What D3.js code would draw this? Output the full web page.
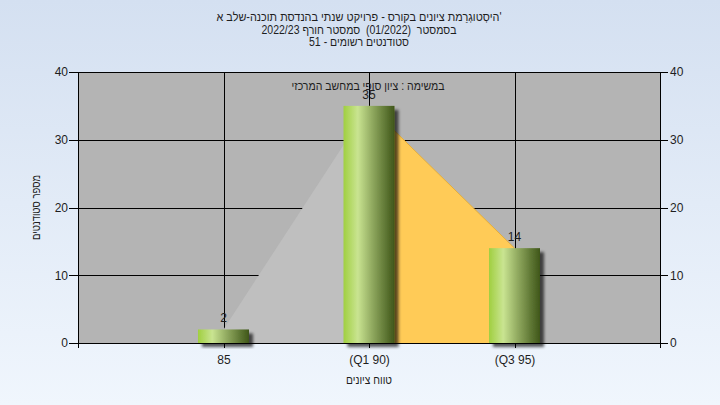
<!DOCTYPE html>
<html>
<head>
<meta charset="utf-8">
<script src="https://cdn.jsdelivr.net/npm/d3@7"></script>
<style>
  html, body { margin: 0; padding: 0; }
  body { width: 720px; height: 405px; overflow: hidden; }
  text { font-family: "Liberation Sans", Arial, sans-serif; fill: #1e1e1e; white-space: pre; }
</style>
</head>
<body>
<svg id="chart" width="720" height="405"></svg>
<script>
// ---- data ----
const categories = ["85", "(Q1 90)", "(Q3 95)"];
const counts = [2, 35, 14];
const yTicks = [0, 10, 20, 30, 40];
const titleLines = [
  "היסְטוגְרַמת ציונים בקורס - פרויקט שנתי בהנדסת תוכנה-שלב א'",
  "בסמסטר  (01/2022)  סמסטר חורף 2022/23",
  "סטודנטים רשומים - 51"
];
const seriesLabel = "במשימה : ציון סופי במחשב המרכזי";
const xTitle = "טווח ציונים";
const yTitle = "מספר סטודנטים";
const areaColors = ["#bfbfbf", "#ffcb57"];

// ---- layout ----
const W = 720, H = 405;
const plot = { left: 78, right: 660, top: 72, bottom: 343 };
const titleWidths = [285, 195, 100];
const svg = d3.select("#chart");

const defs = svg.append("defs");
const bg = defs.append("linearGradient").attr("id", "bg").attr("x1", 0).attr("y1", 0).attr("x2", 0).attr("y2", 1);
bg.append("stop").attr("offset", "0%").attr("stop-color", "#d4e0f1");
bg.append("stop").attr("offset", "100%").attr("stop-color", "#f0f6fd");

const bar = defs.append("linearGradient").attr("id", "barg").attr("x1", 0).attr("y1", 0).attr("x2", 1).attr("y2", 0);
[["0%", "#a0cf40"], ["28%", "#c9e491"], ["55%", "#93ac62"], ["85%", "#5a7230"], ["100%", "#3f561a"]]
  .forEach(([o, c]) => bar.append("stop").attr("offset", o).attr("stop-color", c));

const f = defs.append("filter").attr("id", "shadow").attr("x", "-20%").attr("y", "-20%").attr("width", "160%").attr("height", "160%");
f.append("feDropShadow").attr("dx", 4).attr("dy", 4).attr("stdDeviation", 1.6)
  .attr("flood-color", "#000").attr("flood-opacity", 0.65);

svg.append("rect").attr("width", W).attr("height", H).attr("fill", "url(#bg)");

// scales
const x = d3.scalePoint().domain(categories).range([plot.left, plot.right]).padding(1);
const y = d3.scaleLinear().domain([0, 40]).range([plot.bottom, plot.top]);

// plot background
svg.append("rect").attr("x", plot.left).attr("y", plot.top)
  .attr("width", plot.right - plot.left).attr("height", plot.bottom - plot.top)
  .attr("fill", "#b4b4b4");

// gridlines
const grid = svg.append("g").attr("stroke", "#000").attr("stroke-width", 1).attr("shape-rendering", "crispEdges");
grid.selectAll("line.h").data(yTicks.filter(t => t > 0)).join("line")
  .attr("x1", plot.left).attr("x2", plot.right)
  .attr("y1", d => Math.round(y(d)) + 0.5).attr("y2", d => Math.round(y(d)) + 0.5);
grid.selectAll("line.v").data(categories).join("line")
  .attr("x1", d => Math.round(x(d)) + 0.5).attr("x2", d => Math.round(x(d)) + 0.5)
  .attr("y1", plot.top).attr("y2", plot.bottom);

// area segments
const pts = categories.map((c, i) => ({ c, v: counts[i] }));
const area = d3.area().x(d => x(d.c)).y0(plot.bottom).y1(d => y(d.v));
for (let i = 0; i < pts.length - 1; i++) {
  svg.append("path").datum([pts[i], pts[i + 1]]).attr("d", area)
    .attr("fill", areaColors[i]);
}
svg.append("path").datum([pts[1], pts[2]])
  .attr("d", d3.line().x(d => x(d.c)).y(d => y(d.v)))
  .attr("fill", "none").attr("stroke", "#e6ae3a").attr("stroke-width", 1);

// bars
const bw = 51;
svg.append("g").selectAll("rect").data(pts).join("rect")
  .attr("x", d => x(d.c) - bw / 2)
  .attr("y", d => y(d.v))
  .attr("width", bw)
  .attr("height", d => plot.bottom - y(d.v))
  .attr("fill", "url(#barg)")
  .attr("filter", "url(#shadow)");

// top border
svg.append("line").attr("x1", plot.left).attr("x2", plot.right)
  .attr("y1", plot.top + 0.5).attr("y2", plot.top + 0.5).attr("stroke", "#000").attr("shape-rendering", "crispEdges");

// axes
const axStyle = g => {
  g.selectAll("path, line").attr("stroke", "#000").attr("shape-rendering", "crispEdges");
  g.selectAll("text").attr("font-size", 12).attr("fill", "#1e1e1e")
    .attr("font-family", "'Liberation Sans', Arial, sans-serif");
};
svg.append("g").attr("transform", `translate(${plot.left},0)`)
  .call(d3.axisLeft(y).tickValues(yTicks).tickSize(9).tickPadding(1).tickSizeOuter(0))
  .call(axStyle);
svg.append("g").attr("transform", `translate(${plot.right},0)`)
  .call(d3.axisRight(y).tickValues(yTicks).tickSize(8).tickPadding(2).tickSizeOuter(0))
  .call(axStyle);
svg.append("g").attr("transform", `translate(0,${plot.bottom})`)
  .call(d3.axisBottom(x).tickSize(5).tickSizeOuter(5).tickPadding(7))
  .call(axStyle);

// value labels
svg.append("g").selectAll("text").data(pts).join("text")
  .attr("x", d => x(d.c)).attr("y", d => y(d.v) - 7)
  .attr("text-anchor", "middle").attr("font-size", 12)
  .text(d => d.v);

// series label inside plot
svg.append("text").attr("x", 368).attr("y", 90).attr("text-anchor", "middle")
  .attr("font-size", 12).attr("fill", "#2a2a2a")
  .attr("textLength", 153).attr("lengthAdjust", "spacingAndGlyphs").text(seriesLabel);

// titles
svg.append("g").selectAll("text").data(titleLines).join("text")
  .attr("x", 359).attr("y", (d, i) => 21 + i * 12.5)
  .attr("text-anchor", "middle").attr("font-size", 12)
  .attr("textLength", (d, i) => titleWidths[i]).attr("lengthAdjust", "spacingAndGlyphs")
  .text(d => d);

svg.append("text").attr("x", 369).attr("y", 384)
  .attr("text-anchor", "middle").attr("font-size", 12)
  .attr("textLength", 46).attr("lengthAdjust", "spacingAndGlyphs").text(xTitle);

svg.append("text").attr("transform", `translate(40,${(plot.top + plot.bottom) / 2}) rotate(-90)`)
  .attr("text-anchor", "middle").attr("font-size", 12)
  .attr("textLength", 65).attr("lengthAdjust", "spacingAndGlyphs").text(yTitle);
</script>
</body>
</html>
